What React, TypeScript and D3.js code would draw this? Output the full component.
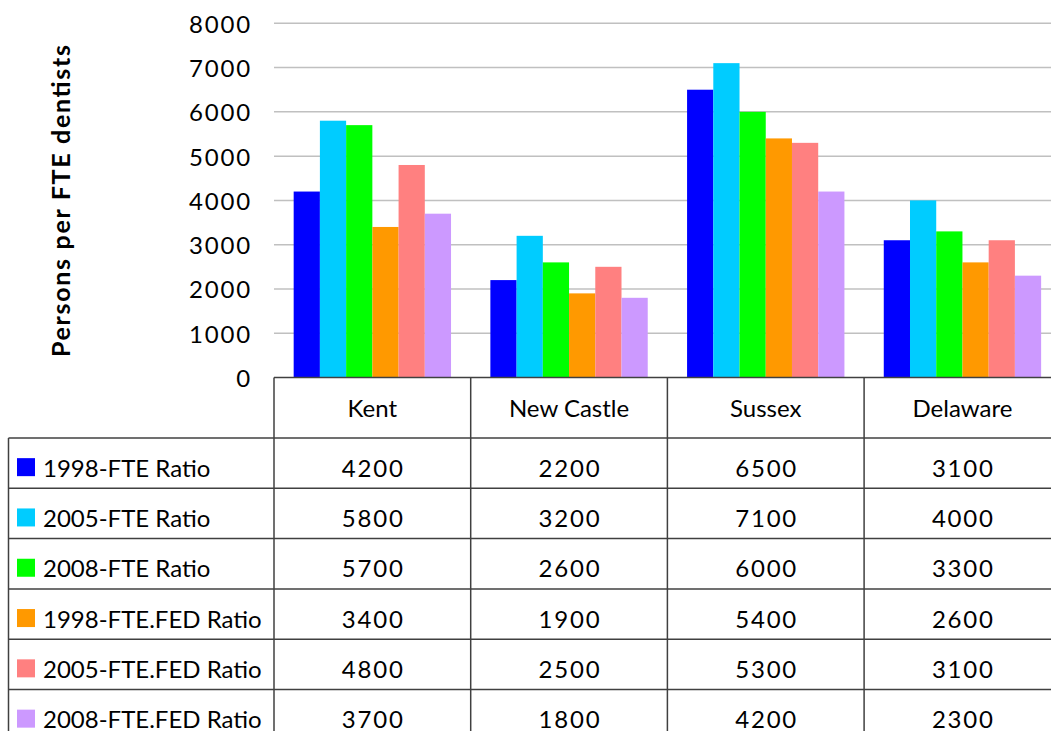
import React from "react";
import * as d3 from "d3";

const categories = ["Kent", "New Castle", "Sussex", "Delaware"];
const seriesNames = [
  "1998-FTE Ratio",
  "2005-FTE Ratio",
  "2008-FTE Ratio",
  "1998-FTE.FED Ratio",
  "2005-FTE.FED Ratio",
  "2008-FTE.FED Ratio",
];
const s1998FTE = [4200, 2200, 6500, 3100];
const s2005FTE = [5800, 3200, 7100, 4000];
const s2008FTE = [5700, 2600, 6000, 3300];
const s1998FED = [3400, 1900, 5400, 2600];
const s2005FED = [4800, 2500, 5300, 3100];
const s2008FED = [3700, 1800, 4200, 2300];
const seriesValues = [s1998FTE, s2005FTE, s2008FTE, s1998FED, s2005FED, s2008FED];
const colors = ["#0000FF", "#00CCFF", "#00FF00", "#FF9900", "#FF8080", "#CC99FF"];
const yTicks = [0, 1000, 2000, 3000, 4000, 5000, 6000, 7000, 8000];

const W = 1051;
const H = 731;
const FONT = "Lato, 'Open Sans', sans-serif";

export default function App() {
  const plotLeft = 274;
  const bandW = 196.7;
  const x0 = d3
    .scaleBand<string>()
    .domain(categories)
    .range([plotLeft, plotLeft + bandW * categories.length])
    .padding(0);
  const x1 = d3
    .scaleBand<number>()
    .domain(d3.range(seriesNames.length))
    .range([x0.bandwidth() * 0.1, x0.bandwidth() * 0.9])
    .padding(0);
  const y = d3.scaleLinear().domain([0, 8000]).range([377.5, 23.3]);

  const tableTop = y(0);
  const headerBottom = 438;
  const rowH = 50.3;
  const legendLeft = 8.5;
  const rightEdge = plotLeft + bandW * categories.length;
  const lineColor = "#404040";
  const fs = 24;
  const numSpacing = 1.8;

  return (
    <svg
      width={W}
      height={H}
      style={{ position: "absolute", left: 0, top: 0, background: "#fff" }}
      fontFamily={FONT}
    >
      {yTicks.map((t) =>
        t === 0 ? null : (
          <line
            key={t}
            x1={plotLeft}
            x2={rightEdge}
            y1={y(t)}
            y2={y(t)}
            stroke="#c0c0c0"
            strokeWidth={1.5}
          />
        )
      )}
      {yTicks.map((t) => (
        <text
          key={"l" + t}
          x={252}
          y={y(t)}
          textAnchor="end"
          dominantBaseline="central"
          fontSize={fs}
          letterSpacing={numSpacing}
          fill="#000"
        >
          {t}
        </text>
      ))}
      <text
        transform={`translate(70,${201}) rotate(-90)`}
        textAnchor="middle"
        fontSize={25}
        fontWeight="bold"
        textLength={312}
        lengthAdjust="spacing"
        fill="#000"
      >
        Persons per FTE dentists
      </text>
      {categories.map((c, ci) => (
        <g key={c} transform={`translate(${x0(c)},0)`}>
          {seriesValues.map((vals, si) => (
            <rect
              key={si}
              x={x1(si)}
              y={y(vals[ci])}
              width={x1.bandwidth()}
              height={y(0) - y(vals[ci])}
              fill={colors[si]}
            />
          ))}
        </g>
      ))}
      <g stroke={lineColor} strokeWidth={1.5} fill="none">
        <line x1={plotLeft} x2={rightEdge} y1={tableTop} y2={tableTop} />
        {d3.range(seriesNames.length + 1).map((i) => (
          <line
            key={"h" + i}
            x1={legendLeft}
            x2={rightEdge}
            y1={headerBottom + i * rowH}
            y2={headerBottom + i * rowH}
          />
        ))}
        <line x1={legendLeft} x2={legendLeft} y1={headerBottom} y2={H + 20} />
        {categories.map((c) => (
          <line key={"v" + c} x1={x0(c)} x2={x0(c)} y1={tableTop} y2={H + 20} />
        ))}
        <line x1={rightEdge} x2={rightEdge} y1={tableTop} y2={H + 20} />
      </g>
      {categories.map((c) => (
        <text
          key={"c" + c}
          x={(x0(c) as number) + x0.bandwidth() / 2}
          y={(tableTop + headerBottom) / 2}
          textAnchor="middle"
          dominantBaseline="central"
          fontSize={fs}
          fill="#000"
        >
          {c}
        </text>
      ))}
      {seriesNames.map((name, si) => {
        const cy = headerBottom + si * rowH + rowH / 2 + 4;
        return (
          <g key={name}>
            <rect x={17} y={cy - 9} width={18} height={18} fill={colors[si]} />
            <text x={43} y={cy} dominantBaseline="central" fontSize={fs} fill="#000">
              {name}
            </text>
            {categories.map((c, ci) => (
              <text
                key={c}
                x={(x0(c) as number) + x0.bandwidth() / 2 + numSpacing / 2}
                y={cy}
                textAnchor="middle"
                dominantBaseline="central"
                fontSize={fs}
                letterSpacing={numSpacing}
                fill="#000"
              >
                {seriesValues[si][ci]}
              </text>
            ))}
          </g>
        );
      })}
    </svg>
  );
}
